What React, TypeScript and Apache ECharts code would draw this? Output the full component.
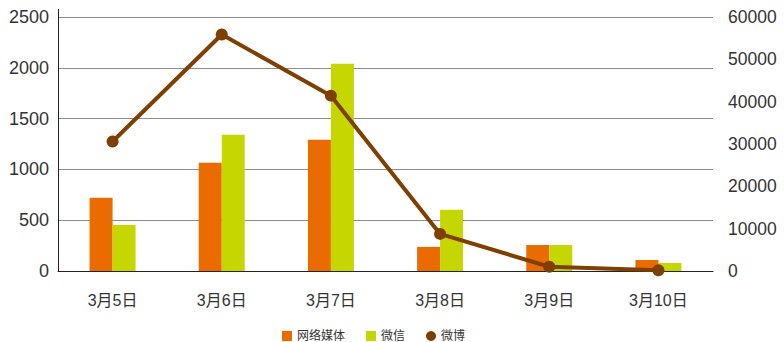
import React, { useEffect, useRef } from "react";
import * as echarts from "echarts";

const categories = ["3月5日", "3月6日", "3月7日", "3月8日", "3月9日", "3月10日"];
const webMedia = [720, 1065, 1292, 237, 256, 108];
const wechat = [452, 1341, 2041, 602, 256, 79];
const weibo = [30600, 55860, 41420, 8760, 1000, 150];

const leftTicks = [0, 2500, 500];
const rightTicks = [0, 60000, 10000];

const FONT = "'Liberation Sans', Arial, 'Noto Sans CJK SC', sans-serif";

export default function App() {
  const ref = useRef<HTMLDivElement>(null);

  useEffect(() => {
    if (!ref.current) return;
    const chart = echarts.init(ref.current, undefined, { renderer: "svg" });
    chart.setOption({
      animation: false,
      textStyle: { fontFamily: FONT },
      grid: { left: 58, right: 71, top: 17, bottom: 71, containLabel: false },
      legend: {
        top: 330,
        left: 282,
        padding: 0,
        itemWidth: 10,
        itemHeight: 10,
        itemGap: 21,
        textStyle: { fontSize: 12, color: "#333", fontFamily: FONT },
        data: [
          { name: "网络媒体", icon: "rect" },
          { name: "微信", icon: "rect" },
          { name: "微博", icon: "circle" },
        ],
      },
      xAxis: {
        type: "category",
        data: categories,
        axisLine: { lineStyle: { color: "#222", width: 1 } },
        axisTick: { show: false },
        axisLabel: { fontSize: 16, color: "#333", margin: 21, fontFamily: FONT },
      },
      yAxis: [
        {
          type: "value",
          min: leftTicks[0],
          max: leftTicks[1],
          interval: leftTicks[2],
          axisLine: { show: true, lineStyle: { color: "#222" } },
          axisTick: { show: false },
          axisLabel: {
            fontSize: 18,
            color: "#333",
            margin: 9,
            fontFamily: FONT,
            formatter: (v: number) => String(v),
          },
          splitLine: { lineStyle: { color: "#8c8c8c", width: 1 } },
        },
        {
          type: "value",
          min: rightTicks[0],
          max: rightTicks[1],
          interval: rightTicks[2],
          axisLine: { show: false },
          axisTick: { show: false },
          axisLabel: {
            fontSize: 17.5,
            color: "#333",
            margin: 15,
            fontFamily: FONT,
            formatter: (v: number) => String(v),
          },
          splitLine: { show: false },
        },
      ],
      series: [
        {
          name: "网络媒体",
          type: "bar",
          data: webMedia,
          barWidth: 23,
          barGap: "0%",
          itemStyle: { color: "#EA6C00" },
        },
        {
          name: "微信",
          type: "bar",
          data: wechat,
          barWidth: 23,
          barGap: "0%",
          itemStyle: { color: "#C5D600" },
        },
        {
          name: "微博",
          type: "line",
          yAxisIndex: 1,
          data: weibo,
          symbol: "circle",
          symbolSize: 12,
          lineStyle: { color: "#7F3F00", width: 4 },
          itemStyle: { color: "#7F3F00" },
          z: 5,
        },
      ],
      graphic: [
        {
          type: "line",
          shape: { x1: 58.5, y1: 9, x2: 58.5, y2: 17 },
          style: { stroke: "#222", lineWidth: 1 },
        },
      ],
    });
    return () => chart.dispose();
  }, []);

  return (
    <div
      ref={ref}
      style={{ position: "absolute", left: 0, top: 0, width: 784, height: 342 }}
    />
  );
}
